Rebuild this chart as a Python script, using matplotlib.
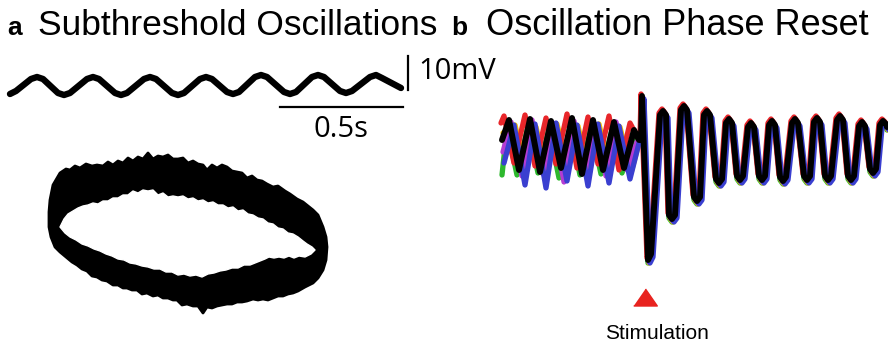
import matplotlib.pyplot as plt
from matplotlib.transforms import offset_copy

# everything is laid out in pixel units of the 888x345 figure (y grows downward)

# panel a, top: subthreshold oscillation trace
osc_x = [10, 16, 31, 37, 43, 58, 64, 70, 87, 93, 99, 115, 121, 127, 144, 150, 156, 172, 178,
         184, 200, 206, 212, 227, 233, 239, 255, 261, 267, 284, 290, 296, 312, 318, 324, 340,
         346, 352, 370, 376, 382, 401]
osc_y = [94, 91, 79, 77, 79, 93, 95, 93, 79, 77, 79, 93, 95, 93, 79, 77, 79, 93, 95,
         93, 79, 77, 79, 92, 94, 92, 77, 75, 77, 92, 94, 92, 77, 75, 77, 91,
         93, 91, 77, 75, 78, 88]

# scale bars
vbar_x, vbar_y = [408, 408], [56, 90]
hbar_x, hbar_y = [280, 403], [107, 107]

# panel a, bottom: phase-plane loop (outer and inner edge of the black ring)
ring_out_x = [60, 66, 70, 75, 80, 86, 92, 97, 103, 108, 113, 118, 123, 128, 133, 138, 143, 148,
              153, 158, 163, 168, 173, 178, 183, 188, 193, 198, 203, 207, 212, 217, 222, 227,
              232, 237, 242, 247, 252, 257, 262, 267, 273, 278, 285, 290, 297, 303, 308, 313,
              318, 323, 326, 327, 326, 323, 318, 313, 305, 298, 293, 288, 283, 278, 273, 268,
              263, 258, 253, 247, 242, 237, 232, 227, 222, 217, 212, 207, 203, 198, 193, 187,
              182, 177, 173, 168, 163, 158, 153, 147, 142, 137, 132, 127, 123, 118, 113, 107,
              102, 97, 92, 87, 82, 77, 72, 66, 60, 55, 51, 49, 49, 50, 53]
ring_out_y = [173, 169, 170, 166, 168, 164, 166, 165, 166, 162, 165, 161, 163, 158, 161, 157, 159, 153,
              159, 156, 157, 155, 159, 159, 158, 163, 161, 164, 165, 170, 165, 168, 165, 167,
              171, 172, 173, 178, 176, 180, 181, 184, 187, 186, 191, 194, 199, 202, 206, 210,
              215, 227, 237, 247, 260, 270, 278, 283, 287, 291, 293, 294, 296, 296, 298, 300,
              299, 300, 299, 301, 302, 302, 304, 304, 305, 306, 308, 307, 313, 306, 306, 304,
              305, 300, 300, 298, 298, 295, 296, 293, 294, 290, 290, 288, 288, 285, 285, 281,
              280, 277, 276, 271, 269, 265, 262, 257, 252, 247, 237, 227, 212, 200, 185]
ring_in_x = [60, 64, 68, 73, 78, 83, 88, 93, 98, 103, 108, 113, 118, 123, 128, 133, 138, 143,
             148, 153, 158, 163, 168, 173, 178, 183, 188, 193, 198, 203, 208, 213, 218, 223,
             228, 233, 238, 243, 248, 253, 258, 263, 268, 273, 278, 283, 288, 293, 298, 303,
             307, 312, 315, 311, 305, 299, 294, 289, 284, 279, 274, 269, 265, 260, 255, 250,
             244, 238, 232, 226, 220, 214, 208, 202, 196, 190, 184, 178, 172, 166, 160, 154,
             148, 142, 136, 130, 124, 118, 112, 106, 100, 94, 88, 82, 76, 70, 65]
ring_in_y = [227, 219, 214, 211, 208, 206, 205, 203, 204, 201, 201, 198, 198, 195, 195, 191, 193, 190,
             191, 190, 195, 193, 197, 196, 197, 196, 199, 198, 201, 200, 203, 202, 205, 205,
             208, 207, 211, 210, 214, 215, 218, 219, 223, 224, 228, 229, 233, 234, 237, 241,
             244, 247, 250, 254, 257, 256, 258, 256, 258, 257, 258, 257, 259, 261, 263, 265,
             265, 268, 268, 270, 271, 273, 274, 277, 275, 276, 274, 275, 272, 272, 269, 269,
             267, 266, 264, 263, 260, 259, 256, 254, 251, 249, 246, 244, 240, 237, 233]

# panel b: traces before the stimulus (random phases), one per recording
pre_traces = {
    'green':   ([502, 507, 517, 528, 538, 549, 559, 570, 580, 591, 601, 612, 622, 633, 639],
                [172, 125, 172, 123, 170, 126, 175, 124, 172, 125, 171, 127, 170, 135, 140]),
    'gold':    ([502, 514, 525, 535, 546, 556, 567, 577, 588, 598, 609, 619, 630, 638],
                [130, 122, 168, 124, 170, 121, 167, 123, 172, 121, 169, 124, 170, 140]),
    'red':     ([502, 505, 515, 526, 536, 547, 557, 568, 578, 589, 599, 610, 620, 631, 639],
                [125, 118, 165, 117, 168, 120, 166, 116, 170, 119, 166, 118, 172, 125, 140]),
    'magenta': ([502, 510, 521, 531, 542, 552, 563, 573, 584, 594, 605, 615, 626, 636],
                [150, 120, 174, 118, 172, 121, 180, 119, 170, 122, 174, 120, 168, 140]),
    'blue':    ([502, 512, 523, 533, 544, 554, 565, 575, 586, 596, 607, 617, 628, 637],
                [160, 122, 182, 121, 185, 120, 178, 122, 183, 121, 180, 123, 176, 140]),
    'black':   ([502, 509, 519, 530, 540, 551, 561, 572, 582, 593, 603, 614, 624, 634, 639],
                [140, 120, 170, 119, 172, 121, 168, 118, 174, 120, 170, 122, 168, 130, 140]),
}
trace_colors = {'green': '#2db82d', 'gold': '#f2c200', 'red': '#e8262a',
                'magenta': '#b43cd2', 'blue': '#3a3fd0', 'black': '#000000'}
# small pixel shifts of each coloured trace after the reset (they peek out from the black)
trace_shift = {'green': (0, 3), 'gold': (1, 3), 'red': (-1, -2),
               'magenta': (1, 2), 'blue': (2, 3), 'black': (0, 0)}

# panel b: reset response, shared by all traces
post_x = [641, 642, 648, 651, 660, 663, 666, 669, 672, 675, 681, 684, 687, 694, 697, 700,
          704, 707, 710, 716, 719, 722, 726, 729, 732, 737, 740, 743, 748, 751, 754, 759,
          762, 765, 769, 772, 775, 780, 783, 786, 792, 795, 798, 804, 807, 810, 814, 817,
          820, 825, 828, 831, 837, 840, 843, 848, 851, 854, 859, 862, 865, 870, 873, 876,
          880, 883, 886, 887]
post_y = [140, 96, 260, 254, 115, 111, 115, 215, 219, 215, 110, 106, 110, 197, 201, 197,
          115, 111, 115, 179, 183, 179, 123, 119, 123, 176, 180, 176, 127, 123, 127, 176,
          180, 176, 125, 121, 125, 177, 181, 177, 123, 119, 123, 176, 180, 176, 122, 118,
          122, 176, 180, 176, 120, 116, 120, 176, 180, 176, 126, 122, 126, 169, 173, 169,
          125, 121, 124, 127]

stim_x, stim_y = 645, 297

fig = plt.figure(figsize=(8.88, 3.45), dpi=100)
ax = fig.add_axes([0, 0, 1, 1])
ax.set_xlim(0, 888)
ax.set_ylim(345, 0)
ax.axis('off')

title_font = ['Liberation Sans', 'DejaVu Sans']
scale_font = ['Open Sans', 'DejaVu Sans']

# titles
ax.text(7, 35, 'a', fontsize=19, fontweight='bold', family=title_font, va='baseline')
ax.text(38, 35, 'Subthreshold Oscillations', fontsize=25.5, family=title_font, va='baseline')
ax.text(451, 35, 'b', fontsize=19, fontweight='bold', family=title_font, va='baseline')
ax.text(486, 35, 'Oscillation Phase Reset', fontsize=26, family=title_font, va='baseline')

# panel a trace + scale bars
ax.plot(osc_x, osc_y, color='black', lw=4.6, solid_joinstyle='round', solid_capstyle='round')
ax.plot(vbar_x, vbar_y, color='black', lw=1.6)
ax.plot(hbar_x, hbar_y, color='black', lw=1.6)
ax.text(418, 79, '10mV', fontsize=21, family=scale_font, va='baseline')
ax.text(313, 137, '0.5s', fontsize=21, family=scale_font, va='baseline')

# phase-plane ring
ax.fill(ring_out_x, ring_out_y, color='black', lw=2.0, joinstyle='round')
ax.fill(ring_in_x, ring_in_y, color='white', lw=1.0, ec='white', joinstyle='round')

# panel b traces
for name, (px, py) in pre_traces.items():
    dx, dy = trace_shift[name]
    tr = offset_copy(ax.transData, fig=fig, x=dx * 0.72, y=-dy * 0.72, units='points')
    ax.plot(px + post_x, py + post_y, color=trace_colors[name],
            lw=4.3 if name == 'black' else 3.8, solid_joinstyle='round',
            solid_capstyle='round', transform=tr)

# stimulation marker
ax.plot([stim_x], [stim_y], marker=[(-1, -0.72), (1, -0.72), (0, 0.72)],
        markersize=17, color='#e8231f', ls='none')
ax.text(stim_x + 12, 339, 'Stimulation', fontsize=15, family=title_font, ha='center',
        va='baseline')

fig.savefig('out.png', dpi=100)
